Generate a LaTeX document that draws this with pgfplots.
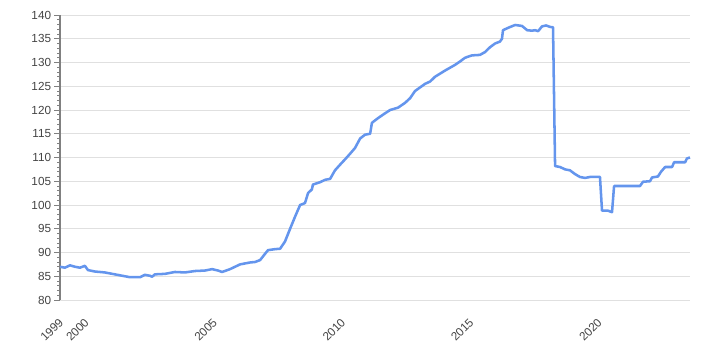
\documentclass[border=0pt]{standalone}
\usepackage{pgfplots}
\pgfplotsset{compat=1.18}
\usepackage{fontspec}
\setmainfont{Liberation Sans}
\definecolor{linec}{HTML}{6495ED}
\definecolor{labc}{HTML}{444444}
\begin{document}
\begin{tikzpicture}
\path[use as bounding box] (-45pt,-37.5pt) rectangle (495pt,225pt);
\begin{axis}[
  scale only axis,
  width=472.5pt, height=213.75pt,
  xmin=1999, xmax=2023.56,
  ymin=80, ymax=140,
  axis lines*=left,
  x axis line style={draw=none},
  y axis line style={draw=gray, line width=0.8pt},
  xtick={1999,2000,2005,2010,2015,2020},
  xticklabels={1999,2000,2005,2010,2015,2020},
  xtick style={draw=none},
  ytick distance=5,
  minor y tick num=4,
  tick align=outside,
  ytick style={draw=gray, line width=0.6pt},
  major tick length=4.5pt,
  minor tick length=2.25pt,
  ymajorgrids,
  grid style={color=black!12, line width=0.6pt},
  tick label style={font=\fontsize{8.8pt}{10pt}\selectfont, color=labc},
  /pgf/number format/assume math mode=true,
  /pgf/number format/1000 sep={},
  xticklabel style={rotate=45, anchor=north east, inner sep=1pt, xshift=-6pt, yshift=-4pt},
  yticklabel style={inner sep=1pt, xshift=-1pt},
  clip=false,
]
\addplot[color=linec, line width=1.9pt, line join=round] table {
x y
1999.00 87.0
1999.19 86.8
1999.39 87.3
1999.58 87.0
1999.78 86.8
1999.97 87.2
2000.09 86.3
2000.36 86.0
2000.75 85.8
2001.14 85.4
2001.53 85.0
2001.73 84.8
2002.12 84.8
2002.31 85.3
2002.51 85.1
2002.59 84.9
2002.70 85.4
2003.09 85.5
2003.48 85.9
2003.87 85.8
2004.26 86.1
2004.65 86.2
2004.93 86.5
2005.16 86.2
2005.32 85.9
2005.63 86.5
2006.02 87.5
2006.41 87.9
2006.60 88.0
2006.80 88.4
2006.99 89.7
2007.11 90.5
2007.38 90.7
2007.58 90.8
2007.77 92.3
2007.97 95.0
2008.16 97.5
2008.36 100.0
2008.55 100.4
2008.67 102.5
2008.82 103.3
2008.86 104.3
2009.14 104.8
2009.33 105.3
2009.53 105.5
2009.72 107.3
2009.92 108.5
2010.11 109.6
2010.31 110.8
2010.50 112.0
2010.70 114.0
2010.89 114.8
2011.09 115.0
2011.16 117.3
2011.40 118.3
2011.67 119.3
2011.87 120.0
2012.18 120.5
2012.45 121.5
2012.65 122.5
2012.84 124.0
2013.23 125.5
2013.43 126.0
2013.62 127.0
2014.01 128.3
2014.40 129.5
2014.59 130.2
2014.79 131.0
2015.06 131.5
2015.37 131.6
2015.57 132.2
2015.76 133.2
2015.96 134.0
2016.15 134.4
2016.23 135.0
2016.27 136.8
2016.47 137.3
2016.74 137.9
2017.01 137.7
2017.21 136.8
2017.40 136.7
2017.52 136.8
2017.64 136.6
2017.79 137.6
2017.95 137.8
2018.10 137.5
2018.22 137.4
2018.30 108.2
2018.49 108.0
2018.69 107.5
2018.88 107.3
2019.08 106.5
2019.27 105.9
2019.47 105.7
2019.66 105.9
2020.05 105.9
2020.13 98.8
2020.36 98.8
2020.52 98.5
2020.60 104.0
2020.83 104.0
2021.61 104.0
2021.73 104.9
2022.00 105.0
2022.08 105.8
2022.31 106.0
2022.43 107.0
2022.59 108.0
2022.86 108.0
2022.94 109.0
2023.37 109.0
2023.44 109.8
2023.56 110.0
};
\end{axis}
\end{tikzpicture}
\end{document}
